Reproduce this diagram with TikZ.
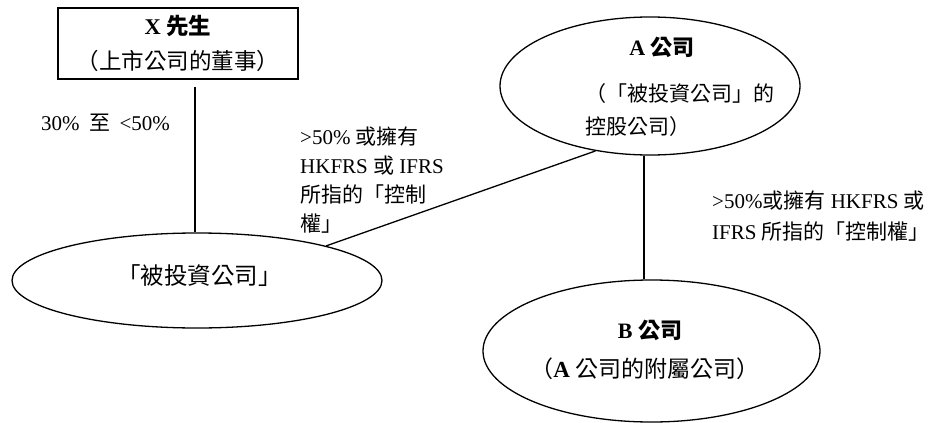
\documentclass[tikz,border=0pt]{standalone}
\usepackage{fontspec}
\setmainfont{Liberation Serif}
\newfontfamily\cjk{Noto Sans CJK TC}
\newcommand\zh[1]{{\cjk #1}}
\usetikzlibrary{shapes.geometric}
\begin{document}
\begin{tikzpicture}[x=1pt,y=-1pt,
  conn/.style={line width=1.3pt},
  ell/.style={draw, line width=1.3pt, ellipse, inner sep=0pt},
  txt/.style={inner sep=0pt},
  lbl/.style={inner sep=0pt, font=\fontsize{21}{29}\selectfont, align=left},
  boxst/.style={draw, line width=1.8pt, inner sep=0pt, align=center}
]
\useasboundingbox (0,0) rectangle (929,423);
% person box
\node[boxst, minimum width=240pt, minimum height=71pt, font=\fontsize{22.5}{35}\selectfont] (X) at (178,43.5)
  {\textbf{X \zh{先生}}\\\zh{（上市公司的董事）}};
% ellipses
\node[ell, minimum width=370pt, minimum height=95pt] (I) at (197,280.5) {};
\node[ell, minimum width=300pt, minimum height=138pt] (A) at (650,86) {};
\node[ell, minimum width=337pt, minimum height=142pt] (B) at (651.5,351) {};
% ellipse texts
\node[txt, font=\fontsize{23.5}{26}\selectfont] (It) at (199.5,276) {\zh{「被投資公司」}};
\node[txt, font=\bfseries\fontsize{22}{26}\selectfont] (At) at (662,47) {A \zh{公司}};
\node[lbl, font=\fontsize{21}{33}\selectfont, anchor=north west] (Ab) at (585,83)
  {\zh{（「被投資公司」的}\\\zh{控股公司）}};
\node[txt, font=\bfseries\fontsize{22}{26}\selectfont] (Bt) at (650,330) {B \zh{公司}};
\node[txt, font=\fontsize{23}{26}\selectfont] (Bb) at (645,369) {\zh{（}\textbf{A} \zh{公司的附屬公司）}};
% labels
\node[lbl, anchor=west] (L1) at (41,123) {30\%\hspace{0.45em}\zh{至}\hspace{0.45em}<50\%};
\node[lbl, anchor=north west] (L2) at (300,127)
  {>50\% \zh{或擁有}\\HKFRS \zh{或} IFRS\\\zh{所指的「控制}\\\zh{權」}};
\node[lbl, font=\fontsize{21}{31}\selectfont, anchor=north west] (L3) at (712,191)
  {>50\%\zh{或擁有} HKFRS \zh{或}\\IFRS \zh{所指的「控制權」}};
% connectors
\coordinate (xtop) at (195,87);
\draw[conn] (xtop) -- (xtop |- I.north);
\draw[conn] (A.230.6) -- (I.15.5);
\draw[conn] (A.265) -- (A.265 |- B.north);
\end{tikzpicture}
\end{document}
